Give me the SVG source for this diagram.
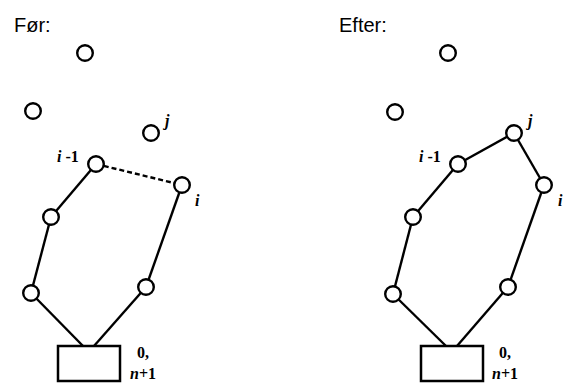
<svg xmlns="http://www.w3.org/2000/svg" width="565" height="383" viewBox="0 0 565 383">
  <style>
    .title { font-family: "Liberation Sans", Arial, sans-serif; font-size: 20px; fill: #000; }
    .lbl { font-family: "Liberation Serif", "Times New Roman", serif; font-size: 16px; font-weight: bold; fill: #000; }
    .it { font-style: italic; }
    .node { fill: #fff; stroke: #000; stroke-width: 2.4; }
    .depot { fill: #fff; stroke: #000; stroke-width: 2.5; }
    .edge { stroke: #000; stroke-width: 2.4; fill: none; }
    .dash { stroke-dasharray: 5 3; }
  </style>
  <rect width="565" height="383" fill="#fff"/>

  <!-- Before -->
  <g id="before">
    <text class="title" x="14" y="32">Før:</text>
    <g id="before-edges">
      <line class="edge" x1="31" y1="293" x2="83" y2="346"/>
      <line class="edge" x1="146" y1="287" x2="94" y2="346"/>
      <line class="edge" x1="31" y1="293" x2="51" y2="217"/>
      <line class="edge" x1="51" y1="217" x2="96" y2="164"/>
      <line class="edge dash" x1="96" y1="164" x2="182" y2="185"/>
      <line class="edge" x1="182" y1="185" x2="146" y2="287"/>
    </g>
    <g id="b-top"><circle class="node" cx="85" cy="53" r="7.8"/></g>
    <g id="b-left"><circle class="node" cx="33" cy="111" r="7.8"/></g>
    <g id="b-j"><circle class="node" cx="151" cy="133" r="7.8"/>
      <text class="lbl it" x="165" y="126">j</text></g>
    <g id="b-i1"><circle class="node" cx="96" cy="164" r="7.8"/>
      <text class="lbl" x="57" y="162"><tspan class="it">i</tspan> -1</text></g>
    <g id="b-i"><circle class="node" cx="182" cy="185" r="7.8"/>
      <text class="lbl it" x="195" y="206">i</text></g>
    <g id="b-lm"><circle class="node" cx="51" cy="217" r="7.8"/></g>
    <g id="b-lb"><circle class="node" cx="31" cy="293" r="7.8"/></g>
    <g id="b-rb"><circle class="node" cx="146" cy="287" r="7.8"/></g>
    <g id="b-depot"><rect class="depot" x="58" y="346" width="62" height="35"/>
      <text class="lbl" x="137" y="358">0,</text>
      <text class="lbl" x="130" y="379"><tspan class="it">n</tspan>+1</text></g>
  </g>

  <!-- After -->
  <g id="after">
    <text class="title" x="339" y="32">Efter:</text>
    <g id="after-edges">
      <line class="edge" x1="393" y1="294" x2="446" y2="346"/>
      <line class="edge" x1="508" y1="287" x2="457" y2="346"/>
      <line class="edge" x1="393" y1="294" x2="413" y2="217"/>
      <line class="edge" x1="413" y1="217" x2="458" y2="164"/>
      <line class="edge" x1="458" y1="164" x2="514" y2="133"/>
      <line class="edge" x1="514" y1="133" x2="544" y2="185"/>
      <line class="edge" x1="544" y1="185" x2="508" y2="287"/>
    </g>
    <g id="a-top"><circle class="node" cx="448" cy="53" r="7.8"/></g>
    <g id="a-left"><circle class="node" cx="395" cy="112" r="7.8"/></g>
    <g id="a-j"><circle class="node" cx="514" cy="133" r="7.8"/>
      <text class="lbl it" x="528" y="126">j</text></g>
    <g id="a-i1"><circle class="node" cx="458" cy="164" r="7.8"/>
      <text class="lbl" x="419" y="162"><tspan class="it">i</tspan> -1</text></g>
    <g id="a-i"><circle class="node" cx="544" cy="185" r="7.8"/>
      <text class="lbl it" x="558" y="206">i</text></g>
    <g id="a-lm"><circle class="node" cx="413" cy="217" r="7.8"/></g>
    <g id="a-lb"><circle class="node" cx="393" cy="294" r="7.8"/></g>
    <g id="a-rb"><circle class="node" cx="508" cy="287" r="7.8"/></g>
    <g id="a-depot"><rect class="depot" x="421" y="346" width="62" height="35"/>
      <text class="lbl" x="499" y="358">0,</text>
      <text class="lbl" x="492" y="379"><tspan class="it">n</tspan>+1</text></g>
  </g>
</svg>
